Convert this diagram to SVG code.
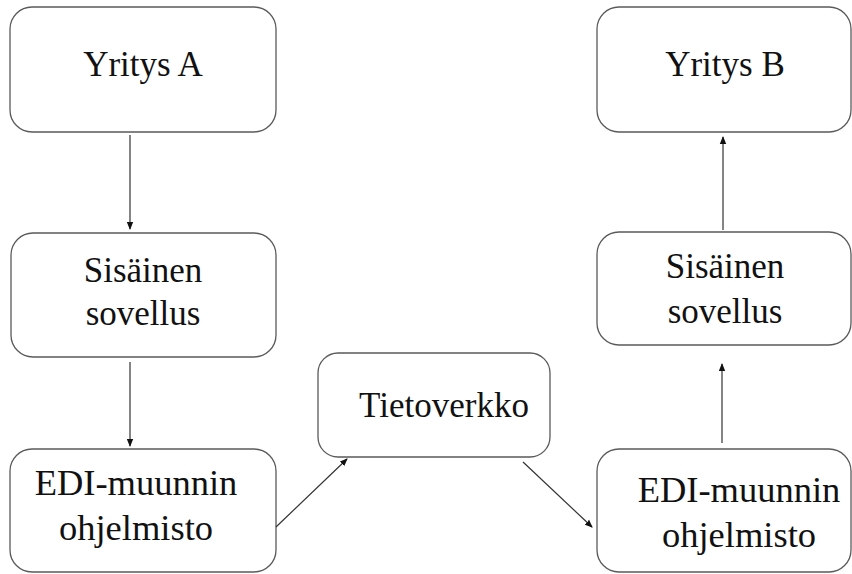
<svg xmlns="http://www.w3.org/2000/svg" width="852" height="574" viewBox="0 0 852 574">
<style>
.box{fill:#fff;stroke:#5a5a5a;stroke-width:1.3}
.t{font-family:"Liberation Serif","Times New Roman",serif;font-size:35px;fill:#111;text-anchor:middle}
.e{font-size:36.5px}
.c{stroke:#333;stroke-width:1.2;fill:none;marker-end:url(#ah)}
</style>
<defs>
<marker id="ah" markerWidth="8" markerHeight="8" refX="7" refY="4" orient="auto" markerUnits="userSpaceOnUse">
<path d="M0,0.8 L8,4 L0,7.2 Z" fill="#111"/>
</marker>
</defs>
<rect width="852" height="574" fill="#fff"/>
<g id="yritysA"><rect class="box" x="10" y="7" width="266" height="125" rx="22"/><text class="t" x="143" y="76">Yritys A</text></g>
<g id="sisainenA"><rect class="box" x="11" y="233" width="265" height="124" rx="22"/><text class="t" x="143" y="282">Sisäinen</text><text class="t" x="143" y="325">sovellus</text></g>
<g id="ediA"><rect class="box" x="10" y="449" width="266" height="123" rx="22"/><text class="t e" x="136" y="495">EDI-muunnin</text><text class="t e" x="136" y="540">ohjelmisto</text></g>
<g id="tietoverkko"><rect class="box" x="318" y="353" width="232" height="104" rx="20"/><text class="t" x="444" y="417">Tietoverkko</text></g>
<g id="yritysB"><rect class="box" x="597" y="7" width="254" height="125" rx="22"/><text class="t" x="725" y="76">Yritys B</text></g>
<g id="sisainenB"><rect class="box" x="597" y="232" width="254" height="113" rx="22"/><text class="t" x="725" y="278">Sisäinen</text><text class="t" x="725" y="323">sovellus</text></g>
<g id="ediB"><rect class="box" x="597" y="449" width="254" height="123" rx="22"/><text class="t e" x="739" y="502">EDI-muunnin</text><text class="t e" x="739" y="547">ohjelmisto</text></g>
<g id="connectors">
<line class="c" x1="130" y1="135" x2="130" y2="229"/>
<line class="c" x1="130" y1="362" x2="130" y2="446"/>
<line class="c" x1="276" y1="527" x2="347" y2="459"/>
<line class="c" x1="523" y1="462" x2="592" y2="527"/>
<line class="c" x1="722" y1="443" x2="722" y2="364"/>
<line class="c" x1="723" y1="230" x2="723" y2="137"/>
</g>
</svg>
